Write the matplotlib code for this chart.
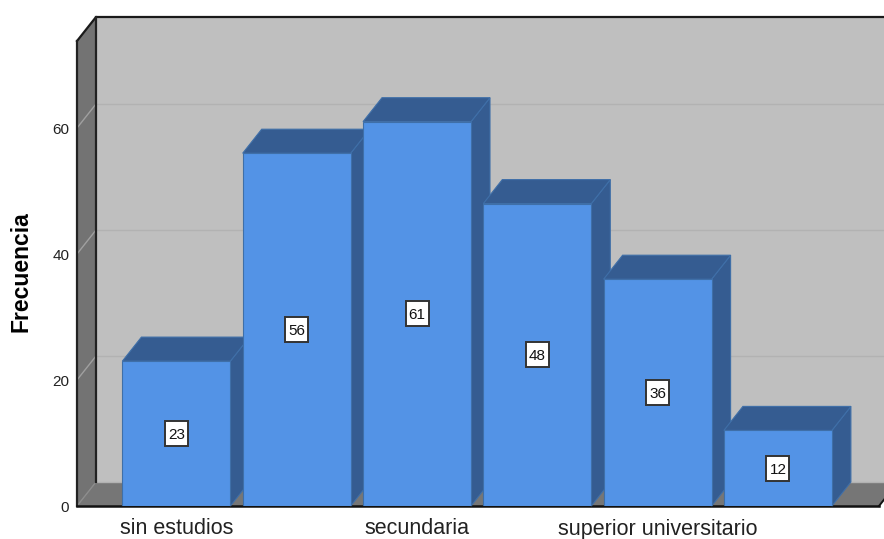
import matplotlib
matplotlib.use("Agg")
import matplotlib.pyplot as plt
from matplotlib.patches import Polygon, Rectangle

categories = ["sin estudios", "", "secundaria", "", "superior universitario", ""]
values = [23, 56, 61, 48, 36, 12]
y_ticks = [0, 20, 40, 60]
y_label = "Frecuencia"

FRONT = "#5393E6"
DARK = "#355C91"
EDGE = "#3F6FA8"
WALL = "#BFBFBF"
SIDE = "#737373"
FLOOR = "#767676"

plt.rcParams["font.family"] = ["Liberation Sans", "DejaVu Sans"]
W, H = 884, 539
fig = plt.figure(figsize=(W / 100, H / 100), dpi=100)
L, R, T, B = 77, 879, 41, 506
ax = fig.add_axes([L / W, (H - B) / H, (R - L) / W, (B - T) / H])
sx = 120.3
sy = 6.3
cx0 = 176.4
ax.set_xlim((L - cx0) / sx, (R - cx0) / sx)
ax.set_ylim(0, (B - T) / sy)
dx = 19 / sx
dy = 24 / sy
x0, x1 = ax.get_xlim()
y0, y1 = ax.get_ylim()
ax.patch.set_alpha(0)
for s in ("top", "right"):
    ax.spines[s].set_visible(False)
ax.spines["left"].set_linewidth(1.6)
ax.spines["left"].set_color("#222222")
ax.spines["bottom"].set_linewidth(1.8)
ax.spines["bottom"].set_color("#111111")
ax.spines["left"].set_zorder(3)
ax.spines["bottom"].set_zorder(3)


def poly(pts, **kw):
    p = Polygon(pts, closed=True, clip_on=False, **kw)
    ax.add_patch(p)
    return p


# back wall, side wall, floor
poly([(x0 + dx, y0 + dy), (x1 + dx + 1, y0 + dy), (x1 + dx + 1, y1 + dy), (x0 + dx, y1 + dy)],
     facecolor=WALL, edgecolor="none", zorder=1)
poly([(x0, y0), (x0 + dx, y0 + dy), (x0 + dx, y1 + dy), (x0, y1)],
     facecolor=SIDE, edgecolor="none", zorder=1)
poly([(x0, y0), (x1, y0), (x1 + dx, y0 + dy), (x0 + dx, y0 + dy)],
     facecolor=FLOOR, edgecolor="none", zorder=1)

# gridlines on the walls
for t in y_ticks:
    ax.plot([x0 + dx, x1 + dx + 1], [t + dy, t + dy], color="#B2B2B2", lw=1.0, zorder=1.5, clip_on=False)
    ax.plot([x0, x0 + dx], [t, t + dy], color="#A0A0A0" if t > 0 else "#8C8C8C", lw=1.0, zorder=1.5, clip_on=False)

# wall outlines
ax.plot([x0, x0 + dx, x1 + dx + 1], [y1, y1 + dy, y1 + dy], color="#1A1A1A", lw=1.6, zorder=2, clip_on=False)
ax.plot([x0 + dx, x0 + dx], [y0 + dy, y1 + dy], color="#222222", lw=1.6, zorder=2, clip_on=False)
ax.plot([x1, x1 + dx], [y0, y0 + dy], color="#111111", lw=1.4, zorder=2, clip_on=False)

# bars
xs = list(range(len(values)))
bw = 108 / sx
box_w = 23 / sx
box_h = 25 / sy
for i, v in zip(xs, values):
    a, b = i - bw / 2, i + bw / 2
    z = 4 + i * 0.1
    poly([(b, 0), (b + dx, dy), (b + dx, v + dy), (b, v)], facecolor=DARK, edgecolor=EDGE, lw=0.8, zorder=z)
    poly([(a, v), (b, v), (b + dx, v + dy), (a + dx, v + dy)], facecolor=DARK, edgecolor=EDGE, lw=0.8, zorder=z)
    ax.bar(i, v, width=bw, color=FRONT, edgecolor=EDGE, linewidth=0.8, zorder=z + 0.01)
    ax.add_patch(Rectangle((i - box_w / 2, v / 2 - box_h / 2), box_w, box_h, facecolor="white",
                           edgecolor="#333333", linewidth=1.4, zorder=z + 0.02))
    ax.text(i, v / 2, str(v), ha="center", va="center_baseline", fontsize=11, color="#111111", zorder=z + 0.03)

ax.set_xticks(xs)
ax.set_xticklabels(categories, fontsize=15.5, color="#222222")
ax.set_yticks(y_ticks)
ax.set_yticklabels([str(t) for t in y_ticks], fontsize=11, color="#222222")
ax.tick_params(axis="x", length=0, pad=9)
ax.tick_params(axis="y", length=0, pad=5.5)
ax.text(21.5 / W, (H - 272) / H, y_label, transform=fig.transFigure, rotation=90, ha="center", va="center",
        fontsize=16.5, fontweight="bold", color="black")

fig.savefig("out.png", dpi=100)
